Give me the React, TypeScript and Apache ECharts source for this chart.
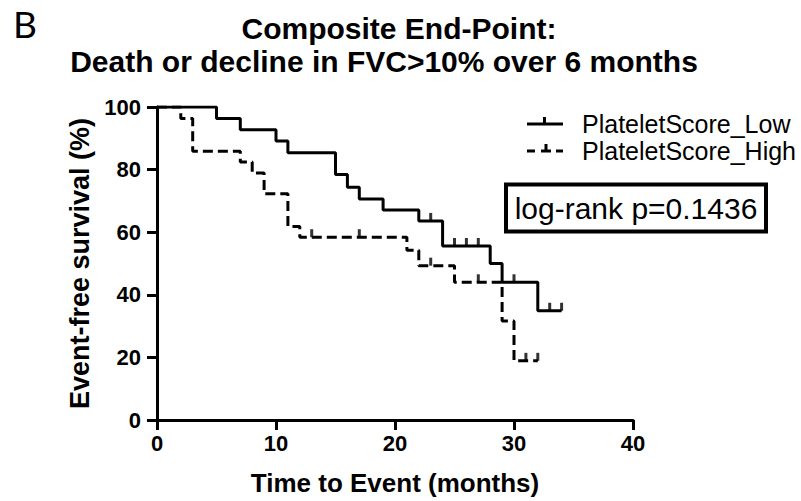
import React, { useEffect, useRef } from 'react';
import * as echarts from 'echarts';

const panelLabel = 'B';
const titleLines = ['Composite End-Point:', 'Death or decline in FVC>10% over 6 months'];
const seriesNames = ['PlateletScore_Low', 'PlateletScore_High'];
const xAxisName = 'Time to Event (months)';
const yAxisName = 'Event-free survival (%)';
const pValueText = 'log-rank p=0.1436';

const xMin = 0;
const xMax = 40;
const xInterval = 10;
const yMin = 0;
const yMax = 100;
const yInterval = 20;

// PlateletScore_Low (solid)
const lowTimes = [0, 5, 7, 10, 11, 15, 16, 17, 19, 22, 24, 28, 29, 32, 34];
const lowSurvival = [100, 96.3, 92.7, 89.1, 85.4, 78.4, 74.4, 70.6, 67.1, 63.6, 55.6, 50.0, 44.0, 34.9, 34.9];
const lowCensored = [23, 25, 26, 27, 30, 33, 34];

// PlateletScore_High (dashed)
const highTimes = [0, 2, 3, 7, 8, 9, 11, 12, 21, 22, 25, 29, 30, 32];
const highSurvival = [100, 96.3, 85.9, 82.4, 78.9, 72.3, 61.8, 58.4, 54.2, 49.3, 44.0, 31.6, 18.9, 18.9];
const highCensored = [13, 17, 23, 27, 31, 32];

const FONT = '"Liberation Sans", Arial, sans-serif';

function survivalAt(times: number[], surv: number[], t: number): number {
  let v = surv[0];
  for (let i = 0; i < times.length; i++) {
    if (times[i] <= t) v = surv[i];
  }
  return v;
}

export default function App() {
  const ref = useRef<HTMLDivElement>(null);

  useEffect(() => {
    if (!ref.current) return;
    const chart = echarts.init(ref.current, null, { renderer: 'svg' });

    const lowData = lowTimes.map((t, i) => [t, lowSurvival[i]]);
    const highData = highTimes.map((t, i) => [t, highSurvival[i]]);
    const lowCens = lowCensored.map((t) => [t, survivalAt(lowTimes, lowSurvival, t)]);
    const highCens = highCensored.map((t) => [t, survivalAt(highTimes, highSurvival, t)]);

    const black = '#000';

    const option: any = {
      animation: false,
      backgroundColor: '#fff',
      grid: { left: 157, right: 168, top: 107, bottom: 78, containLabel: false },
      xAxis: {
        type: 'value',
        min: xMin,
        max: xMax,
        interval: xInterval,
        name: xAxisName,
        nameLocation: 'middle',
        nameGap: 50,
        nameTextStyle: { fontSize: 26, fontWeight: 'bold', color: black, fontFamily: FONT },
        axisLine: { show: true, lineStyle: { color: black, width: 3 } },
        axisTick: { show: true, length: 10, lineStyle: { color: black, width: 3 } },
        axisLabel: { fontSize: 22, fontWeight: 'bold', color: black, fontFamily: FONT, margin: 12 },
        splitLine: { show: false },
      },
      yAxis: {
        type: 'value',
        min: yMin,
        max: yMax,
        interval: yInterval,
        name: yAxisName,
        nameLocation: 'middle',
        nameGap: 47,
        nameTextStyle: { fontSize: 27, fontWeight: 'bold', color: black, fontFamily: FONT },
        axisLine: { show: true, lineStyle: { color: black, width: 3 } },
        axisTick: { show: true, length: 10, lineStyle: { color: black, width: 3 } },
        axisLabel: { fontSize: 22, fontWeight: 'bold', color: black, fontFamily: FONT, margin: 16 },
        splitLine: { show: false },
      },
      series: [
        {
          type: 'line',
          name: seriesNames[0],
          data: lowData,
          step: 'end',
          symbol: 'none',
          showSymbol: false,
          lineStyle: { color: black, width: 3, type: 'solid' },
          itemStyle: { color: black },
          z: 3,
        },
        {
          type: 'line',
          name: seriesNames[1],
          data: highData,
          step: 'end',
          symbol: 'none',
          showSymbol: false,
          lineStyle: { color: black, width: 3, type: [10, 5] },
          itemStyle: { color: black },
          z: 3,
        },
        {
          type: 'scatter',
          name: seriesNames[0] + ' censored',
          data: lowCens,
          symbol: 'rect',
          symbolSize: [3, 8],
          symbolOffset: [0, -4],
          itemStyle: { color: black },
          z: 4,
        },
        {
          type: 'scatter',
          name: seriesNames[1] + ' censored',
          data: highCens,
          symbol: 'rect',
          symbolSize: [3, 8],
          symbolOffset: [0, -4],
          itemStyle: { color: black },
          z: 4,
        },
      ],
      graphic: [
        {
          type: 'text',
          x: 13,
          y: 23,
          style: { text: panelLabel, font: '37px Lato, "Liberation Sans", sans-serif', fill: black, textAlign: 'left', textVerticalAlign: 'middle' },
        },
        {
          type: 'text',
          x: 399,
          y: 28,
          style: { text: titleLines[0], font: `bold 30px ${FONT}`, fill: black, textAlign: 'center', textVerticalAlign: 'middle' },
        },
        {
          type: 'text',
          x: 384,
          y: 61,
          style: { text: titleLines[1], font: `bold 30px ${FONT}`, fill: black, textAlign: 'center', textVerticalAlign: 'middle' },
        },
        // legend row 1 (solid)
        { type: 'rect', shape: { x: 527, y: 122.5, width: 36, height: 3 }, style: { fill: black } },
        { type: 'rect', shape: { x: 543, y: 117, width: 3, height: 6 }, style: { fill: black } },
        {
          type: 'text',
          x: 582,
          y: 124,
          style: { text: seriesNames[0], font: `25px ${FONT}`, fill: black, textAlign: 'left', textVerticalAlign: 'middle' },
        },
        // legend row 2 (dashed)
        { type: 'rect', shape: { x: 527, y: 149.5, width: 8, height: 3 }, style: { fill: black } },
        { type: 'rect', shape: { x: 541, y: 149.5, width: 10, height: 3 }, style: { fill: black } },
        { type: 'rect', shape: { x: 544.5, y: 144, width: 3, height: 6 }, style: { fill: black } },
        { type: 'rect', shape: { x: 556, y: 149.5, width: 7, height: 3 }, style: { fill: black } },
        {
          type: 'text',
          x: 582,
          y: 151,
          style: { text: seriesNames[1], font: `25px ${FONT}`, fill: black, textAlign: 'left', textVerticalAlign: 'middle' },
        },
        // p-value box
        {
          type: 'rect',
          shape: { x: 506, y: 184.5, width: 260, height: 47 },
          style: { fill: 'none', stroke: black, lineWidth: 4 },
        },
        {
          type: 'text',
          x: 636,
          y: 208,
          style: { text: pValueText, font: `30px ${FONT}`, fill: black, textAlign: 'center', textVerticalAlign: 'middle' },
        },
      ],
    };

    chart.setOption(option);
    return () => chart.dispose();
  }, []);

  return (
    <div
      ref={ref}
      style={{ position: 'absolute', left: 0, top: 0, width: 801, height: 501, background: '#fff' }}
    />
  );
}
